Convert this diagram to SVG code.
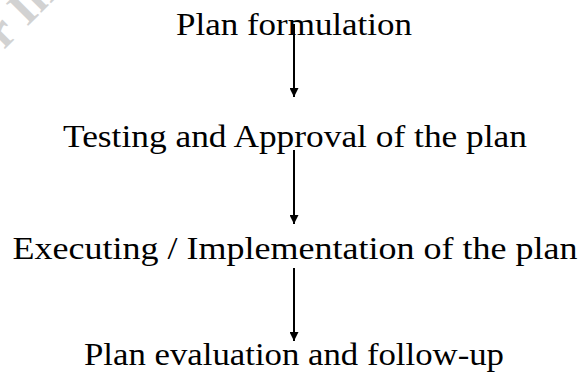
<svg xmlns="http://www.w3.org/2000/svg" width="584" height="376" viewBox="0 0 584 376">
  <style>
    .lbl { font-family: "Liberation Serif", "DejaVu Serif", serif; font-size: 32px; fill: #000; text-anchor: middle; }
    .wm { font-family: "Liberation Serif", serif; font-weight: bold; font-size: 48px; fill: #d2d2d2; }
    .conn { stroke: #000; stroke-width: 2; fill: none; }
  </style>
  <defs>
    <marker id="arrow" viewBox="0 0 10 10" refX="10" refY="5" markerWidth="10" markerHeight="9" markerUnits="userSpaceOnUse" orient="auto">
      <path d="M0,0 L10,5 L0,10 Z" fill="#000"/>
    </marker>
  </defs>
  <rect width="584" height="376" fill="#fff"/>
  <g id="watermark">
    <text class="wm" transform="translate(4,50) rotate(-45)">r Institute</text>
  </g>
  <g id="n1"><text class="lbl" x="294" y="35" textLength="236" lengthAdjust="spacingAndGlyphs">Plan formulation</text></g>
  <g id="n2"><text class="lbl" x="295" y="147" textLength="464" lengthAdjust="spacingAndGlyphs">Testing and Approval of the plan</text></g>
  <g id="n3"><text class="lbl" x="295" y="259" textLength="565" lengthAdjust="spacingAndGlyphs">Executing / Implementation of the plan</text></g>
  <g id="n4"><text class="lbl" x="294" y="365" textLength="420" lengthAdjust="spacingAndGlyphs">Plan evaluation and follow-up</text></g>
  <g id="connectors">
    <line class="conn" x1="294" y1="24" x2="294" y2="97" marker-end="url(#arrow)"/>
    <line class="conn" x1="294" y1="150" x2="294" y2="224" marker-end="url(#arrow)"/>
    <line class="conn" x1="294" y1="268" x2="294" y2="341" marker-end="url(#arrow)"/>
  </g>
</svg>
